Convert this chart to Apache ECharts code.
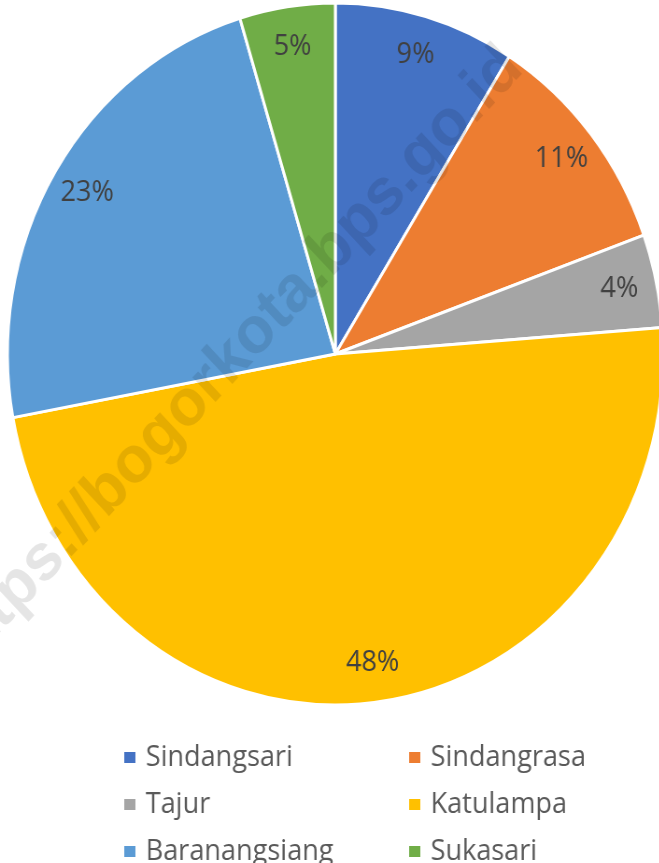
<!DOCTYPE html>
<html>
<head>
<meta charset="utf-8">
<style>
  html, body { margin: 0; padding: 0; background: #fff; overflow: hidden; }
  #wrap { width: 659px; height: 863px; overflow: hidden; }
  /* the source picture is squeezed horizontally, so the chart is too */
  #chart { width: 706px; height: 863px; transform: scaleX(0.934); transform-origin: 0 0; }
</style>
<script src="https://cdn.jsdelivr.net/npm/echarts@6/dist/echarts.min.js"></script>
</head>
<body>
<div id="wrap"><div id="chart"></div></div>
<script>
var categories = ['Sindangsari', 'Sindangrasa', 'Tajur', 'Katulampa', 'Baranangsiang', 'Sukasari'];
var shares = [8.9, 10.6, 4.3, 48.3, 23.2, 4.7];
var colors = ['#4472C4', '#ED7D31', '#A5A5A5', '#FFC000', '#5B9BD5', '#70AD47'];

var leftLegend = ['Sindangsari', 'Tajur', 'Baranangsiang'];
var rightLegend = ['Sindangrasa', 'Katulampa', 'Sukasari'];

var chart = echarts.init(document.getElementById('chart'));

var pieData = categories.map(function (name, i) {
    return { name: name, value: shares[i] };
});

var legendBase = {
    type: 'plain',
    orient: 'vertical',
    top: 743,
    height: 300,
    padding: 0,
    itemWidth: 14,
    itemHeight: 13,
    itemGap: 18,
    icon: 'rect',
    textStyle: {
        fontFamily: 'Open Sans',
        fontSize: 29,
        lineHeight: 28,
        color: '#595959',
        padding: [0, 0, 0, 5]
    },
    selectedMode: false
};

var option = {
    color: colors,
    animation: false,
    legend: [
        Object.assign({}, legendBase, { left: 131, data: leftLegend }),
        Object.assign({}, legendBase, { left: 436, data: rightLegend })
    ],
    series: [{
        type: 'pie',
        center: [359, 354],
        radius: [0, 351],
        startAngle: 90,
        clockwise: true,
        label: { show: false },
        labelLine: { show: false },
        itemStyle: { borderColor: '#fff', borderWidth: 3 },
        silent: true,
        data: pieData
    }, {
        // only carries the percentage labels, at ~0.87 of the radius
        type: 'pie',
        center: [359, 354],
        radius: [265, 351],
        startAngle: 90,
        clockwise: true,
        silent: true,
        itemStyle: { color: 'rgba(0,0,0,0)' },
        label: {
            show: true,
            position: 'inside',
            fontFamily: 'Open Sans',
            fontSize: 29,
            color: '#404040',
            formatter: function (p) {
                return Math.round(p.percent) + '%';
            }
        },
        labelLine: { show: false },
        data: pieData
    }],
    graphic: [{
        type: 'text',
        x: 247,
        y: 360,
        rotation: 45 * Math.PI / 180,
        z: 100,
        silent: true,
        style: {
            text: 'https://bogorkota.bps.go.id',
            fontFamily: 'Liberation Sans',
            fontWeight: 'bold',
            fontSize: 66,
            fill: 'rgba(0,0,0,0.1)',
            align: 'center',
            verticalAlign: 'middle'
        }
    }]
};

chart.setOption(option);
</script>
</body>
</html>
